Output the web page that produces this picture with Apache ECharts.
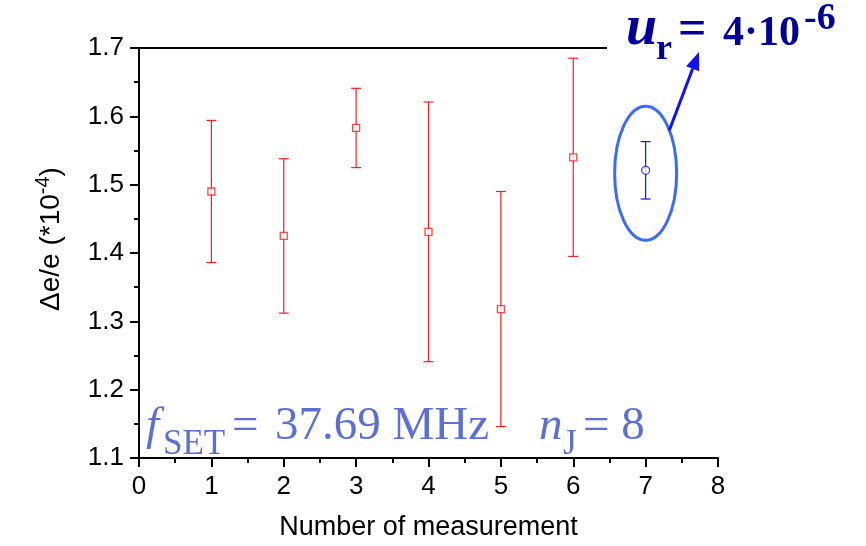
<!DOCTYPE html>
<html>
<head>
<meta charset="utf-8">
<style>
  html, body { margin: 0; padding: 0; background: #fff; }
  #chart { width: 866px; height: 546px; }
</style>
<script src="https://cdn.jsdelivr.net/npm/echarts@6/dist/echarts.min.js"></script>
</head>
<body>
<div id="chart"></div>
<script>
// Individual measurements: index, mean value and its uncertainty (units of 1e-4)
const runs = [1, 2, 3, 4, 5, 6];
const runMeans = [1.490, 1.425, 1.583, 1.431, 1.318, 1.540];
const runErrors = [0.104, 0.113, 0.058, 0.190, 0.172, 0.145];

// Combined result
const totalRun = [7];
const totalMean = [1.521];
const totalError = [0.042];

const xTicks = [0, 1, 2, 3, 4, 5, 6, 7, 8];
const yTicks = [1.1, 1.2, 1.3, 1.4, 1.5, 1.6, 1.7];

const SANS = "'Liberation Sans', Arial, sans-serif";
const SERIF = "'Liberation Serif', 'Times New Roman', serif";
const RED = '#ff1a1a';
const BLUE = '#1010ff';

function errData(xs, ms, es) {
  return xs.map((x, i) => [x, ms[i] - es[i], ms[i] + es[i]]);
}

function errorBar(color) {
  return function (params, api) {
    const x = api.value(0);
    const lo = api.coord([x, api.value(1)]);
    const hi = api.coord([x, api.value(2)]);
    const cap = 5;
    const st = { stroke: color, lineWidth: 1.2 };
    return {
      type: 'group',
      children: [
        { type: 'line', shape: { x1: lo[0], y1: lo[1], x2: hi[0], y2: hi[1] }, style: st },
        { type: 'line', shape: { x1: lo[0] - cap, y1: lo[1], x2: lo[0] + cap, y2: lo[1] }, style: st },
        { type: 'line', shape: { x1: hi[0] - cap, y1: hi[1], x2: hi[0] + cap, y2: hi[1] }, style: st }
      ]
    };
  };
}

const chart = echarts.init(document.getElementById('chart'), null, { renderer: 'canvas' });

const axisLine = { show: true, lineStyle: { color: '#000', width: 2 } };

chart.setOption({
  animation: false,
  backgroundColor: '#fff',
  grid: { left: 139, right: 148, top: 48, bottom: 83 },
  xAxis: [{
    type: 'value',
    min: xTicks[0], max: xTicks[xTicks.length - 1], interval: 1,
    axisLine: axisLine,
    axisTick: { show: true, length: 9, lineStyle: { color: '#000', width: 2 } },
    minorTick: { show: true, splitNumber: 2, length: 5, lineStyle: { color: '#000', width: 2 } },
    splitLine: { show: false },
    axisLabel: { color: '#000', fontFamily: SANS, fontSize: 26, margin: 16 },
    name: 'Number of measurement',
    nameLocation: 'middle',
    nameGap: 56,
    nameTextStyle: { color: '#000', fontFamily: SANS, fontSize: 27 }
  }, {
    type: 'value', position: 'top',
    min: xTicks[0], max: xTicks[xTicks.length - 1],
    axisLine: axisLine, axisTick: { show: false }, axisLabel: { show: false }, splitLine: { show: false }
  }],
  yAxis: [{
    type: 'value',
    min: yTicks[0], max: yTicks[yTicks.length - 1], interval: 0.1,
    axisLine: axisLine,
    axisTick: { show: true, length: 9, lineStyle: { color: '#000', width: 2 } },
    minorTick: { show: true, splitNumber: 2, length: 5, lineStyle: { color: '#000', width: 2 } },
    splitLine: { show: false },
    axisLabel: { color: '#000', fontFamily: SANS, fontSize: 26, margin: 15, formatter: v => v.toFixed(1) },
    name: '{a|\u0394e/e (*10}{s|-4}{a|)}',
    nameLocation: 'middle',
    nameGap: 74,
    nameTextStyle: {
      color: '#000', fontFamily: SANS, fontSize: 28,
      padding: [0, 0, 0, 28],
      rich: {
        a: { fontFamily: SANS, fontSize: 28, color: '#000', verticalAlign: 'bottom', lineHeight: 32 },
        s: { fontFamily: SANS, fontSize: 20, color: '#000', verticalAlign: 'top', lineHeight: 32 }
      }
    }
  }, {
    type: 'value', position: 'right',
    min: yTicks[0], max: yTicks[yTicks.length - 1],
    axisLine: axisLine, axisTick: { show: false }, axisLabel: { show: false }, splitLine: { show: false }
  }],
  series: [
    {
      type: 'custom', name: 'runs-err', xAxisIndex: 0, yAxisIndex: 0,
      renderItem: errorBar(RED),
      data: errData(runs, runMeans, runErrors), z: 2
    },
    {
      type: 'scatter', name: 'runs', xAxisIndex: 0, yAxisIndex: 0,
      symbol: 'rect', symbolSize: 7,
      itemStyle: { color: '#fff', borderColor: RED, borderWidth: 1.3 },
      data: runs.map((x, i) => [x, runMeans[i]]), z: 3
    },
    {
      type: 'custom', name: 'total-err', xAxisIndex: 0, yAxisIndex: 0,
      renderItem: errorBar(BLUE),
      data: errData(totalRun, totalMean, totalError), z: 2
    },
    {
      type: 'scatter', name: 'total', xAxisIndex: 0, yAxisIndex: 0,
      symbol: 'circle', symbolSize: 8,
      itemStyle: { color: '#fff', borderColor: BLUE, borderWidth: 1.3 },
      data: totalRun.map((x, i) => [x, totalMean[i]]), z: 3
    }
  ]
});

// Annotations: measurement conditions, highlighted combined result and its relative uncertainty
const p = chart.convertToPixel({ xAxisIndex: 0, yAxisIndex: 0 }, [totalRun[0], totalMean[0]]);
const ex = p[0], ey = p[1] + 3, rx = 31, ry = 67;
const ang = 40 * Math.PI / 180;
const sx = ex + rx * Math.cos(ang), sy = ey - ry * Math.sin(ang);
const tx = 699, ty = 52;
const dx = tx - sx, dy = ty - sy, len = Math.hypot(dx, dy);
const ux = dx / len, uy = dy / len;
const headL = 18, headW = 7;
const bx = tx - ux * headL, by = ty - uy * headL;

const COND = '#5b6fd4';
const NAVY = '#00009a';

// place a text run by its left edge and baseline
function label(str, x, base, size, font, color, z) {
  return {
    type: 'text', x: x, y: base - 0.83 * size, z: z,
    style: { text: str, font: font + ' ' + size + 'px ' + SERIF, fill: color, verticalAlign: 'top' }
  };
}

chart.setOption({
  graphic: [
    { type: 'rect', shape: { x: 607, y: 0, width: 259, height: 70 }, style: { fill: '#fff' }, z: 50 },
    { type: 'ellipse', shape: { cx: ex, cy: ey, rx: rx, ry: ry }, style: { fill: 'none', stroke: '#3a6cf4', lineWidth: 3 }, z: 60 },
    { type: 'line', shape: { x1: sx, y1: sy, x2: bx, y2: by }, style: { stroke: BLUE, lineWidth: 3 }, z: 60 },
    { type: 'polygon', shape: { points: [[tx, ty], [bx - uy * headW, by + ux * headW], [bx + uy * headW, by - ux * headW]] }, style: { fill: BLUE }, z: 60 },

    label('u', 626, 48, 56, 'italic bold', NAVY, 61),
    label('r', 656, 62, 36, 'bold', NAVY, 61),
    label('=', 678, 48, 50, 'bold', NAVY, 61),
    label('4\u00b710', 723, 48, 42, 'bold', NAVY, 61),
    label('-6', 804, 32, 38, 'bold', NAVY, 61),

    label('f', 146, 442, 47, 'italic', COND, 40),
    label('SET', 163, 456, 35, 'normal', COND, 40),
    label('=', 232, 442, 47, 'normal', COND, 40),
    label('37.69 MHz', 275, 442, 47, 'normal', COND, 40),
    label('n', 539, 442, 47, 'italic', COND, 40),
    label('J', 563, 456, 35, 'normal', COND, 40),
    label('= 8', 583, 442, 47, 'normal', COND, 40)
  ]
});
</script>
</body>
</html>
